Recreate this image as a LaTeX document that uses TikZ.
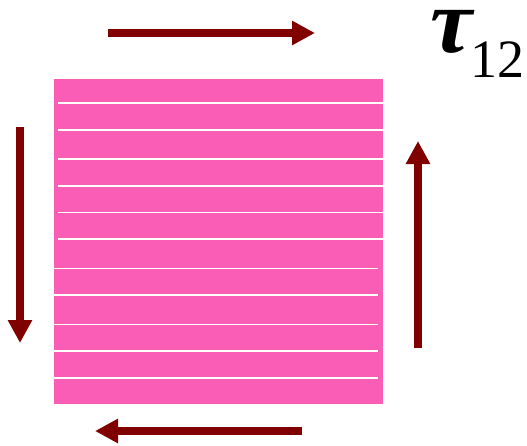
\documentclass[tikz,border=0pt]{standalone}
\usepackage{fontspec}
\setmainfont{Liberation Serif}
\usetikzlibrary{arrows.meta}
\definecolor{lamina}{HTML}{F95DB5}
\definecolor{shear}{HTML}{800000}
\begin{document}
\begin{tikzpicture}[x=1pt, y=-1pt, >={Triangle[width=23pt,length=23pt]}]
    \useasboundingbox (0,0) rectangle (527,445);

    % lamina with fibres
    \fill[lamina] (54,79) rectangle (383,404);
    \foreach \y in {103,129.7,159,185.7,212.3,239}
      \draw[white, line width=1.6pt] (58,\y) -- (383,\y);
    \foreach \y in {268.3,295,324.3,351,377.7}
      \draw[white, line width=1.6pt] (54,\y) -- (378,\y);

    % shear stress arrows
    \draw[shear, line width=8pt, ->] (108,33) -- (315,33);
    \draw[shear, line width=8pt, ->] (302,431) -- (95,431);
    \draw[shear, line width=8pt, ->] (20,127) -- (20,343);
    \draw[shear, line width=8pt, ->] (418,348) -- (418,141);

    \node[anchor=north west, inner sep=0pt] (tau) at (430,10)
      {\resizebox*{42pt}{43pt}{\bfseries\itshape τ}};
    \node[anchor=base west, inner sep=0pt] (sub) at (470,77)
      {\fontsize{54}{54}\selectfont 12};
  \end{tikzpicture}
\end{document}
